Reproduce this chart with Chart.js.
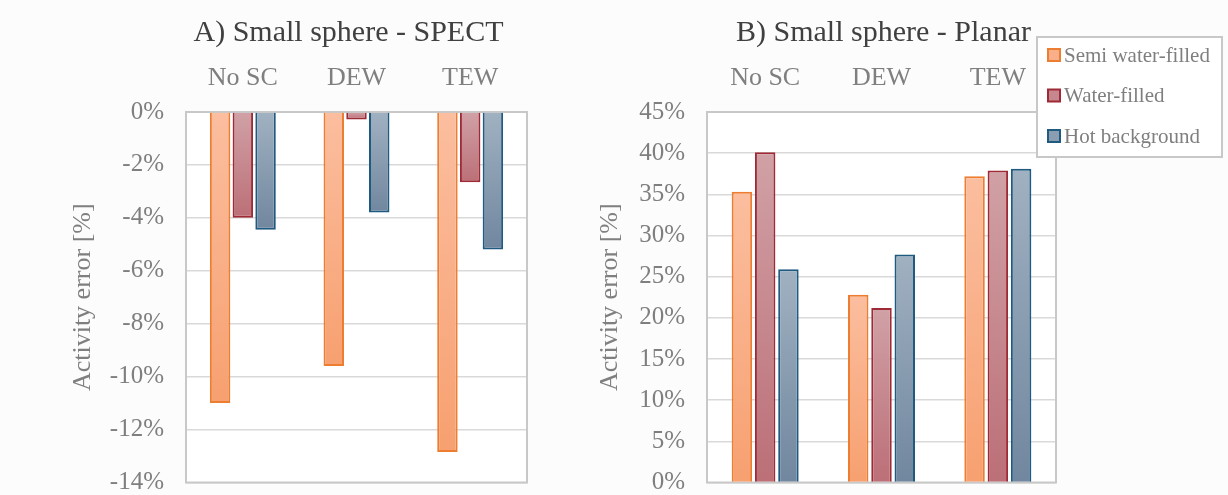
<!DOCTYPE html>
<html>
<head>
<meta charset="utf-8">
<title>Small sphere activity error</title>
<script src="https://cdn.jsdelivr.net/npm/chart.js@4.4.1/dist/chart.umd.min.js"></script>
<style>
  html, body { margin: 0; padding: 0; background: #fcfcfc; }
  #wrap { position: relative; width: 1228px; height: 495px; overflow: hidden; }
  .panel { position: absolute; top: 0; height: 495px; }
  #panelA { left: 0; width: 590px; }
  #panelB { left: 590px; width: 638px; }
</style>
</head>
<body>
<div id="wrap">
  <div class="panel" id="panelA"><canvas id="chartA" width="590" height="495"></canvas></div>
  <div class="panel" id="panelB"><canvas id="chartB" width="638" height="495"></canvas></div>
</div>
<script>
// Scatter-correction methods and phantom configurations
const categories = ['No SC', 'DEW', 'TEW'];
const seriesNames = ['Semi water-filled', 'Water-filled', 'Hot background'];

// A) SPECT activity error [%]
const spectSemi  = [-11.0, -9.6, -12.85];
const spectWater = [-4.0, -0.28, -2.65];
const spectHot   = [-4.45, -3.8, -5.2];

// B) Planar activity error [%]
const planarSemi  = [35.3, 22.8, 37.2];
const planarWater = [40.1, 21.2, 37.9];
const planarHot   = [25.9, 27.7, 38.1];

// Axis ticks
const spectTicks  = { min: -14, max: 0, step: 2 };
const planarTicks = { min: 0, max: 45, step: 5 };

const FONT = '"Liberation Serif", "Times New Roman", serif';
const GREY = '#7f7f7f';

const palette = [
  { top: '#fbbe9f', bottom: '#f7a070', border: '#ed7d31', swatch: '#f9b08a' },
  { top: '#d0a1a6', bottom: '#bc6f77', border: '#9e2a36', swatch: '#c6888e' },
  { top: '#a0b1c1', bottom: '#71879f', border: '#1f5a80', swatch: '#8a9db1' }
];

function barFill(p) {
  return function (ctx) {
    const chart = ctx.chart;
    if (!chart.chartArea || ctx.raw === undefined) return p.top;
    const y = chart.scales.y;
    const a = y.getPixelForValue(0);
    const b = y.getPixelForValue(ctx.raw);
    const g = chart.ctx.createLinearGradient(0, Math.min(a, b), 0, Math.max(a, b) + 0.01);
    g.addColorStop(0, p.top);
    g.addColorStop(1, p.bottom);
    return g;
  };
}

function makeDatasets(values, barPct) {
  return values.map((vals, i) => ({
    label: seriesNames[i],
    data: vals,
    backgroundColor: barFill(palette[i]),
    borderColor: palette[i].border,
    borderWidth: 2,
    categoryPercentage: 0.6,
    barPercentage: barPct
  }));
}

// White plot area behind the bars, grey frame around it
const plotFrame = {
  id: 'plotFrame',
  beforeDraw(chart) {
    const { ctx, chartArea: a } = chart;
    ctx.save();
    ctx.fillStyle = '#ffffff';
    ctx.fillRect(a.left, a.top, a.right - a.left, a.bottom - a.top);
    ctx.restore();
  },
  beforeDatasetsDraw(chart) {
    const { ctx, chartArea: a } = chart;
    ctx.save();
    ctx.strokeStyle = '#c8c8c8';
    ctx.lineWidth = 2;
    ctx.strokeRect(a.left, a.top, a.right - a.left, a.bottom - a.top);
    ctx.restore();
  }
};

// Panel heading drawn above the category labels
const panelTitle = {
  id: 'panelTitle',
  afterDraw(chart, args, opts) {
    const { ctx, chartArea: a } = chart;
    ctx.save();
    ctx.font = '30px ' + FONT;
    ctx.fillStyle = '#404040';
    ctx.textAlign = 'center';
    ctx.textBaseline = 'middle';
    ctx.fillText(opts.text, (a.left + a.right) / 2 + (opts.shift || 0), opts.y);
    ctx.restore();
  }
};

// Framed legend box listing the three phantom configurations
const boxedLegend = {
  id: 'boxedLegend',
  afterDraw(chart, args, opts) {
    if (!opts.show) return;
    const { ctx } = chart;
    ctx.save();
    ctx.fillStyle = '#ffffff';
    ctx.fillRect(opts.x, opts.y, opts.w, opts.h);
    ctx.strokeStyle = '#c8c8c8';
    ctx.lineWidth = 2;
    ctx.strokeRect(opts.x, opts.y, opts.w, opts.h);
    ctx.font = '21px ' + FONT;
    ctx.textBaseline = 'middle';
    ctx.textAlign = 'left';
    chart.data.datasets.forEach((ds, i) => {
      const cy = opts.y + 18 + i * 40.5;
      const sx = opts.x + 11;
      ctx.fillStyle = palette[i].swatch;
      ctx.fillRect(sx, cy - 6, 12, 12);
      ctx.strokeStyle = ds.borderColor;
      ctx.lineWidth = 2;
      ctx.strokeRect(sx, cy - 6, 12, 12);
      ctx.fillStyle = GREY;
      ctx.fillText(ds.label, sx + 16, cy + 1);
    });
    ctx.restore();
  }
};

function makeOptions(t, yAxisWidth, pad, titleText, titleShift, legend) {
  return {
    responsive: false,
    animation: false,
    layout: { padding: pad },
    plugins: {
      legend: { display: false },
      tooltip: { enabled: false },
      panelTitle: { text: titleText, y: 33, shift: titleShift },
      boxedLegend: legend
    },
    scales: {
      x: {
        position: 'top',
        grid: { display: false, drawTicks: false },
        border: { display: false },
        ticks: { color: GREY, font: { family: FONT, size: 26 }, padding: 18 },
        afterFit(scale) { scale.height = 112 - pad.top; }
      },
      y: {
        min: t.min,
        max: t.max,
        // the tick marks are invisible and only space the labels from the frame
        grid: { color: '#d9d9d9', lineWidth: 1.5, drawTicks: true, tickLength: 22, tickColor: 'rgba(0,0,0,0)' },
        border: { display: false },
        ticks: {
          stepSize: t.step,
          color: GREY,
          font: { family: FONT, size: 25, lineHeight: 1.0 },
          padding: 0,
          callback: v => v + '%'
        },
        title: {
          display: true,
          text: 'Activity error [%]',
          color: GREY,
          font: { family: FONT, size: 26 },
          padding: 0
        },
        afterFit(scale) { scale.width = yAxisWidth; }
      }
    }
  };
}

new Chart(document.getElementById('chartA'), {
  type: 'bar',
  data: { labels: categories, datasets: makeDatasets([spectSemi, spectWater, spectHot], 0.9) },
  options: makeOptions(spectTicks, 118, { top: 50, bottom: 12, left: 68, right: 63 },
    'A) Small sphere - SPECT', -8, { show: false }),
  plugins: [plotFrame, panelTitle, boxedLegend]
});

new Chart(document.getElementById('chartB'), {
  type: 'bar',
  data: { labels: categories, datasets: makeDatasets([planarSemi, planarWater, planarHot], 0.88) },
  options: makeOptions(planarTicks, 112, { top: 50, bottom: 12, left: 5, right: 172 },
    'B) Small sphere - Planar', 2, { show: true, x: 447, y: 37, w: 185, h: 120 }),
  plugins: [plotFrame, panelTitle, boxedLegend]
});
</script>
</body>
</html>
